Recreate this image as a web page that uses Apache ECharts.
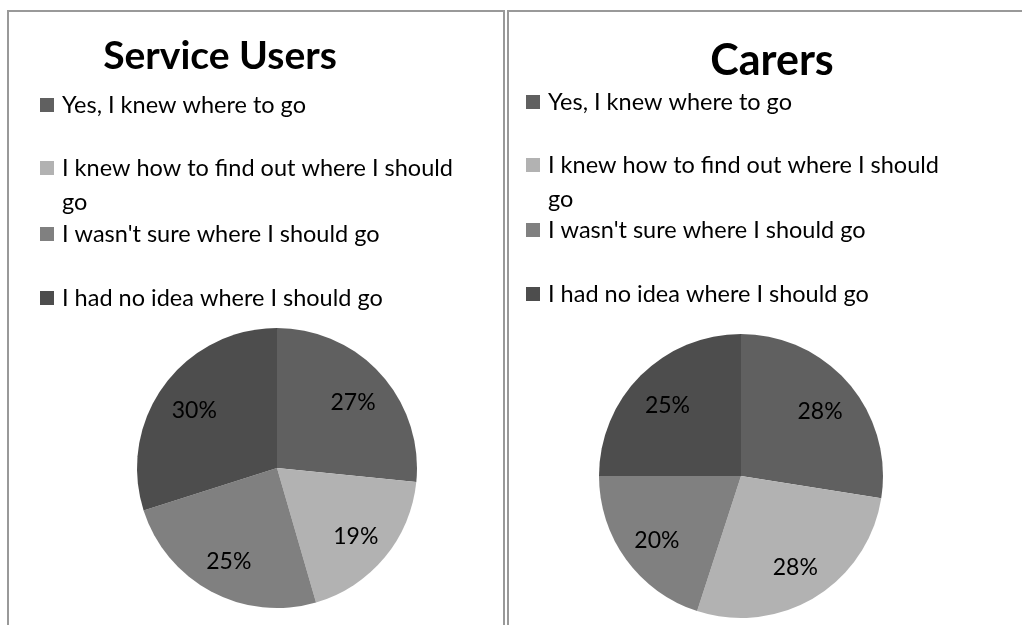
<!DOCTYPE html>
<html>
<head>
<meta charset="utf-8">
<script src="https://cdn.jsdelivr.net/npm/echarts@6/dist/echarts.min.js"></script>
<style>
  html, body { margin: 0; padding: 0; background: #fff; }
  #chart { width: 1022px; height: 625px; }
</style>
</head>
<body>
<div id="chart"></div>
<script>
// answers (same for both groups)
const answers = [
  'Yes, I knew where to go',
  'I knew how to find out where I should go',
  "I wasn't sure where I should go",
  'I had no idea where I should go'
]
const answerColors = ['#606060', '#b2b2b2', '#808080', '#4d4d4d']

// share of each answer
const serviceUsers = [26.6, 18.9, 24.6, 29.9]
const carers = [27.5, 27.5, 20.0, 25.0]

const titles = ['Service Users', 'Carers']

const FONT = 'Lato, "Open Sans", "Noto Sans", sans-serif'

function toData(values) {
  return answers.map((name, i) => ({
    name: name,
    value: values[i],
    itemStyle: { color: answerColors[i] }
  }))
}

function pieSeries(values, center, r) {
  return [
    {
      type: 'pie',
      center: center,
      radius: r,
      startAngle: 90,
      clockwise: true,
      silent: true,
      animation: false,
      label: { show: false },
      labelLine: { show: false },
      itemStyle: { borderWidth: 0 },
      emphasis: { disabled: true },
      data: toData(values)
    },
    {
      // label ring only, so the percentages sit at ~0.7 of the radius
      type: 'pie',
      center: center,
      radius: [Math.round(r * 0.42), r],
      startAngle: 90,
      clockwise: true,
      silent: true,
      animation: false,
      itemStyle: { color: 'transparent', borderWidth: 0 },
      label: {
        show: true,
        position: 'inside',
        offset: [0, 3],
        formatter: p => Math.round(p.value) + '%',
        fontFamily: FONT,
        fontSize: 23,
        color: '#000'
      },
      labelLine: { show: false },
      emphasis: { disabled: true },
      data: answers.map((name, i) => ({ name: name, value: values[i] }))
    }
  ]
}

// one legend per row, so the wrapped row keeps its marker on the first line
function legendRows(markerLeft, centers) {
  return answers.map((name, i) => {
    const wrapped = i === 1
    return {
      data: [name],
      orient: 'vertical',
      left: markerLeft,
      top: wrapped ? centers[i] - 51 : centers[i] - 17,
      padding: 0,
      icon: 'path://M0,0L1,0L1,1L0,1Z',
      symbolKeepAspect: true,
      itemWidth: 20,
      itemHeight: 14,
      itemGap: 0,
      selectedMode: false,
      // blank first line keeps the marker beside the first text line
      formatter: n => wrapped ? '\nI knew how to find out where I should\ngo' : n,
      textStyle: {
        fontFamily: FONT,
        fontSize: 23.5,
        lineHeight: 34,
        color: '#000'
      }
    }
  })
}

const chart = echarts.init(document.getElementById('chart'))
chart.setOption({
  backgroundColor: '#fff',
  animation: false,
  title: [
    {
      text: titles[0], left: 220, top: 34, padding: 0, textAlign: 'center',
      textStyle: { fontFamily: FONT, fontWeight: 'bold', fontSize: 39, lineHeight: 44, color: '#000' }
    },
    {
      text: titles[1], left: 772, top: 39, padding: 0, textAlign: 'center',
      textStyle: { fontFamily: FONT, fontWeight: 'bold', fontSize: 43, lineHeight: 44, color: '#000' }
    }
  ],
  legend: [].concat(
    legendRows(40, [105, 168, 234, 298]),
    legendRows(526, [102, 165, 230, 294])
  ),
  graphic: [
    {
      type: 'rect', silent: true,
      shape: { x: 8, y: 11, width: 496, height: 700 },
      style: { fill: 'none', stroke: '#999', lineWidth: 2 }
    },
    {
      type: 'rect', silent: true,
      shape: { x: 508, y: 11, width: 600, height: 700 },
      style: { fill: 'none', stroke: '#999', lineWidth: 2 }
    }
  ],
  series: [].concat(
    pieSeries(serviceUsers, [277, 468], 140),
    pieSeries(carers, [741, 476], 142)
  )
})
</script>
</body>
</html>
